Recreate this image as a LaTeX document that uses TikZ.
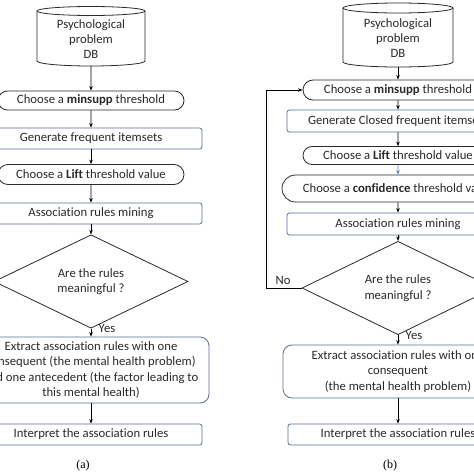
\documentclass[tikz,border=0pt]{standalone}
\usepackage{fontspec}
\setmainfont{Carlito}[Ligatures=NoCommon]
\newfontfamily\capfont{Liberation Serif}
\usetikzlibrary{shapes.geometric,shapes.misc,arrows.meta}
\definecolor{boxblue}{HTML}{5B6F8F}
\definecolor{ink}{HTML}{2A2A2A}
\definecolor{arrblue}{HTML}{5B7FC0}
\begin{document}
\begin{tikzpicture}[x=1pt,y=-1pt,
  font=\fontsize{12.7}{15.4}\selectfont, text=ink,
  term/.style={rounded rectangle, draw=ink, line width=0.8pt, inner sep=0pt},
  proc/.style={rectangle, rounded corners=2.5pt, draw=boxblue, line width=0.8pt, inner sep=0pt},
  extbox/.style={rectangle, rounded corners=9pt, draw=boxblue, line width=0.8pt, inner sep=0pt, align=center},
  dec/.style={diamond, draw=ink, line width=0.8pt, inner sep=0pt, align=center},
  cyl/.style={draw=ink, line width=0.8pt},
  arr/.style={-{Stealth[length=4.5pt,width=3.5pt]}, line width=0.8pt, draw=black},
  lbl/.style={inner sep=0pt},
  capt/.style={font=\capfont\fontsize{12}{14}\selectfont, text=black, inner sep=0pt}]
\useasboundingbox (0,0) rectangle (474,474);
\fill[white] (0,0) rectangle (474,474);
\clip (0,0) rectangle (474,474);

% ---------------- (a) ----------------
\draw[cyl] (91,11) ellipse[x radius=54pt, y radius=4.5pt];
\draw[cyl] (37,11) -- (37,61) arc[start angle=180, end angle=360, x radius=54pt, y radius=5pt] -- (145,11);
\node[align=center, inner sep=0pt] (dbA) at (91,39) {Psychological\\problem\\DB};
\coordinate (dbAb) at (91,66);

\node[term, minimum width=186pt, minimum height=19pt] (msA) at (91,100.5) {Choose a \textbf{minsupp} threshold};
\node[proc, minimum width=222pt, minimum height=21pt] (gfA) at (91,138.5) {Generate frequent itemsets};
\node[term, minimum width=186pt, minimum height=20pt] (liA) at (91,174.5) {Choose a \textbf{Lift} threshold value};
\node[proc, minimum width=222pt, minimum height=21pt] (amA) at (91,213.5) {Association rules mining};
\node[dec, minimum width=194pt, minimum height=73pt] (dA) at (91,281.5) {Are the rules\\meaningful ?};
\node[extbox, minimum width=236pt, minimum height=66pt] (exA) at (91,370) {Extract association rules with one\\consequent (the mental health problem)\\and one antecedent (the factor leading to\\this mental health)};
\node[proc, minimum width=222pt, minimum height=21pt] (inA) at (91,434.5) {Interpret the association rules};
\node[lbl] (yesA) at (107,328) {Yes};
\node[capt] (capA) at (83,466) {(a)};

\draw[arr] (dbAb) -- (msA);
\draw[arr] (msA) -- (gfA);
\draw[arr] (gfA) -- (liA);
\draw[arr] (liA) -- (amA);
\draw[arr] (amA) -- (dA);
\draw[arr] (dA) -- (exA);
\draw[arr] (exA) -- (inA);

% ---------------- (b) ----------------
\draw[cyl] (398,8) ellipse[x radius=55pt, y radius=5pt];
\draw[cyl] (343,8) -- (343,62) arc[start angle=180, end angle=360, x radius=55pt, y radius=5pt] -- (453,8);
\node[align=center, inner sep=0pt] (dbB) at (398,38) {Psychological\\problem\\DB};
\coordinate (dbBb) at (398,67);

\node[term, minimum width=190pt, minimum height=20pt] (msB) at (398,90) {Choose a \textbf{minsupp} threshold};
\node[proc, minimum width=222pt, minimum height=22pt] (gfB) at (398,121) {Generate Closed frequent itemsets};
\node[term, minimum width=190pt, minimum height=18pt] (liB) at (398,155.5) {Choose a \textbf{Lift} threshold value};
\node[term, minimum width=232pt, minimum height=27pt] (cfB) at (398,188.5) {Choose a \textbf{confidence} threshold value};
\node[proc, minimum width=222pt, minimum height=22pt] (amB) at (398,224) {Association rules mining};
\node[dec, minimum width=192pt, minimum height=72pt] (dB) at (398,288) {Are the rules\\meaningful ?};
\node[extbox, minimum width=230pt, minimum height=53pt] (exB) at (398,371.5) {Extract association rules with one\\consequent\\ (the mental health problem)};
\node[proc, minimum width=220pt, minimum height=21pt] (inB) at (398,434.5) {Interpret the association rules};
\node[lbl] (yesB) at (414,335) {Yes};
\node[lbl] (noB) at (283,280) {No};
\node[capt] (capB) at (390,466) {(b)};
\coordinate (fbB) at (266,288);

\draw[arr] (dbBb) -- (msB);
\draw[arr] (msB) -- (gfB);
\draw[arr] (gfB) -- (liB);
\draw[arr, draw=arrblue] (liB) -- (cfB);
\draw[arr] (cfB) -- (amB);
\draw[arr] (amB) -- (dB);
\draw[arr] (dB) -- (exB);
\draw[arr] (exB) -- (inB);
\draw[arr] (dB.west) -- (fbB) |- (msB.west);
\end{tikzpicture}
\end{document}
